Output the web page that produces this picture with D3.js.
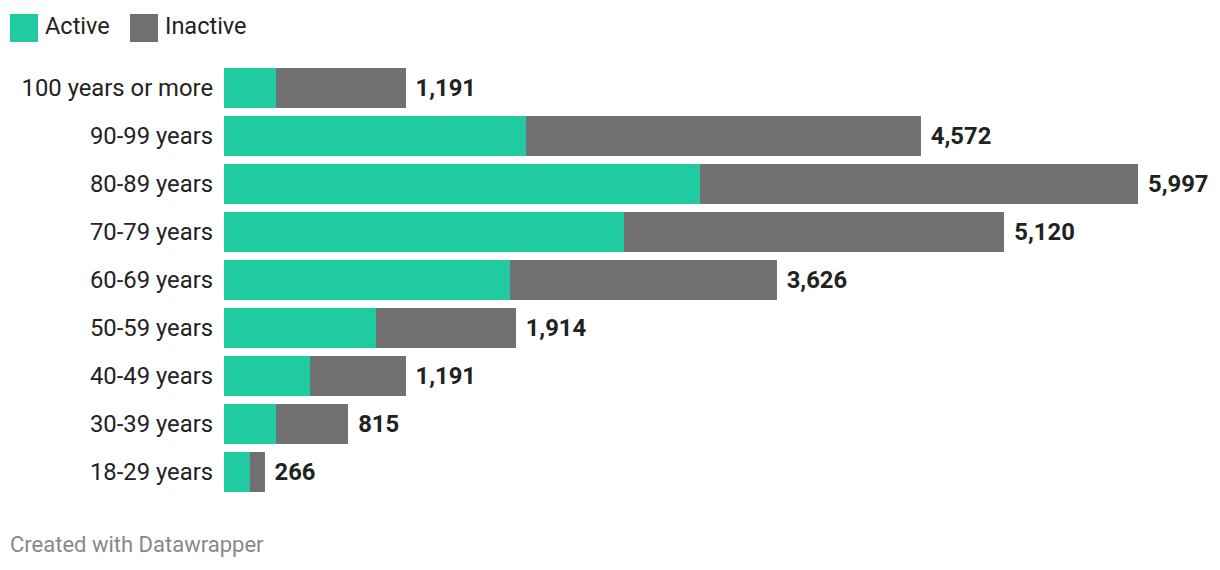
<!DOCTYPE html>
<html>
<head>
<meta charset="utf-8">
<script src="https://cdn.jsdelivr.net/npm/d3@7"></script>
<style>
  html, body { margin: 0; padding: 0; background: #fff; }
  svg { display: block; font-family: Roboto, "Noto Sans", sans-serif; }
</style>
</head>
<body>
<svg id="chart" width="1220" height="570"></svg>
<script>
const categories = ["100 years or more", "90-99 years", "80-89 years", "70-79 years", "60-69 years", "50-59 years", "40-49 years", "30-39 years", "18-29 years"];
const totals =   [1191, 4572, 5997, 5120, 3626, 1914, 1191, 815, 266];
const active =   [341, 1982, 3123, 2625, 1877, 997, 564, 341, 171];
const inactive = totals.map((t, i) => t - active[i]);
const seriesNames = ["Active", "Inactive"];
const colors = ["#20cba1", "#717171"];

const svg = d3.select("#chart");

const x = d3.scaleLinear().domain([0, d3.max(totals)]).range([224, 1138]);
const y = d3.scaleBand().domain(categories).range([64, 496]).paddingInner(8/48).paddingOuter(4/48);

const rows = categories.map((c, i) => ({ cat: c, Active: active[i], Inactive: inactive[i], total: totals[i] }));
const stacked = d3.stack().keys(seriesNames)(rows);

// legend
const legend = svg.append("g");
const legX = [10, 130];
seriesNames.forEach((s, i) => {
  legend.append("rect").attr("x", legX[i]).attr("y", 14).attr("width", 28).attr("height", 28).attr("fill", colors[i]);
  legend.append("text").attr("x", legX[i] + 35).attr("y", 26).attr("dy", "0.35em")
    .attr("font-size", 23.5).attr("fill", "#222").text(s);
});

// bars
svg.append("g").selectAll("g").data(stacked).join("g")
  .attr("fill", (d, i) => colors[i])
  .selectAll("rect").data(d => d).join("rect")
  .attr("x", d => x(d[0]))
  .attr("width", d => x(d[1]) - x(d[0]))
  .attr("y", d => y(d.data.cat))
  .attr("height", y.bandwidth())
  .attr("shape-rendering", "crispEdges");

// category labels
svg.append("g").selectAll("text").data(rows).join("text")
  .attr("x", 213)
  .attr("y", d => y(d.cat) + y.bandwidth() / 2)
  .attr("dy", "0.35em")
  .attr("text-anchor", "end")
  .attr("font-size", 23.8)
  .attr("fill", "#222")
  .text(d => d.cat);

// value labels
const fmt = d3.format(",");
svg.append("g").selectAll("text").data(rows).join("text")
  .attr("x", d => x(d.total) + 10)
  .attr("y", d => y(d.cat) + y.bandwidth() / 2)
  .attr("dy", "0.35em")
  .attr("font-size", 23.8)
  .attr("font-weight", "bold")
  .attr("fill", "#222")
  .text(d => fmt(d.total));

// footer
svg.append("text").attr("x", 10).attr("y", 552)
  .attr("font-size", 22).attr("fill", "#888").text("Created with Datawrapper");
</script>
</body>
</html>
